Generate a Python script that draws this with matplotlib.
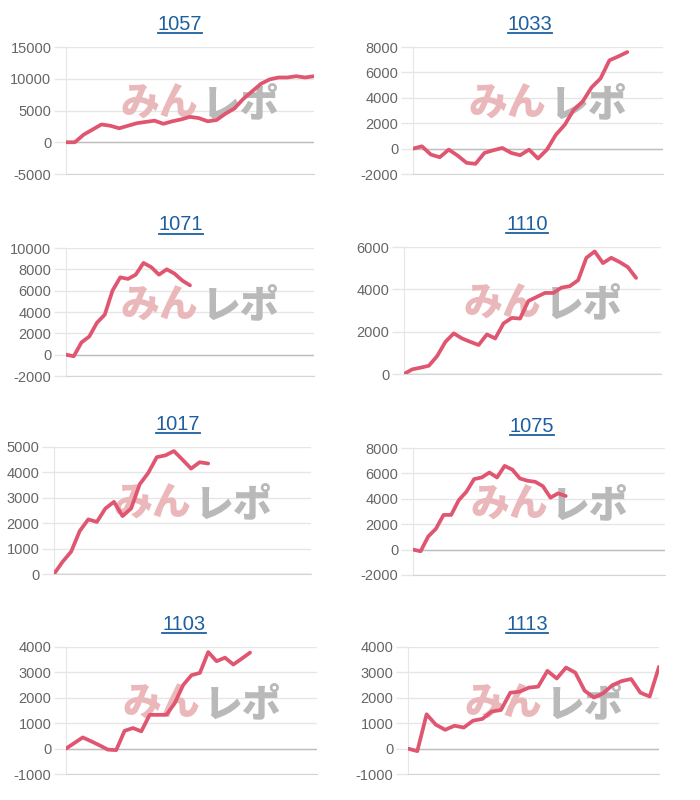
import matplotlib.pyplot as plt
from matplotlib.lines import Line2D

# machine numbers and cumulative difference per day
titles = ["1057", "1033", "1071", "1110", "1017", "1075", "1103", "1113"]

m1057 = [0, 0, 1200, 2000, 2800, 2600, 2200, 2600, 3000, 3200, 3400, 2900, 3300, 3600,
         4000, 3800, 3300, 3500, 4500, 5300, 6800, 8000, 9200, 9900, 10200, 10200, 10400,
         10200, 10400]
m1033 = [0, 180, -470, -680, -80, -550, -1120, -1200, -340, -130, 50, -340, -520, -80,
         -780, -80, 1090, 1880, 3050, 3700, 4820, 5520, 6950, 7260, 7600]
m1071 = [0, -150, 1150, 1700, 3000, 3750, 6000, 7250, 7100, 7500, 8600, 8200, 7500, 8000,
         7600, 6950, 6500]
m1110 = [0, 220, 300, 390, 850, 1520, 1920, 1680, 1520, 1370, 1870, 1680, 2390, 2650,
         2620, 3450, 3640, 3830, 3830, 4080, 4150, 4430, 5490, 5790, 5240, 5490, 5290,
         5050, 4540]
m1017 = [0, 480, 880, 1690, 2150, 2050, 2580, 2840, 2280, 2580, 3530, 3980, 4600, 4670,
         4840, 4500, 4150, 4400, 4350]
m1075 = [0, -130, 1040, 1640, 2730, 2730, 3900, 4560, 5550, 5680, 6070, 5680, 6590, 6300,
         5600, 5420, 5340, 5000, 4090, 4430, 4220]
m1103 = [0, 220, 440, 290, 130, -40, -60, 700, 810, 680, 1330, 1330, 1330, 1790, 2500,
         2890, 2980, 3800, 3440, 3580, 3310, 3540, 3780]
m1113 = [0, -100, 1350, 940, 740, 900, 830, 1100, 1170, 1460, 1520, 2200, 2240, 2400,
         2440, 3060, 2760, 3190, 2990, 2280, 2010, 2180, 2500, 2660, 2740, 2200, 2050, 3220]

series = [m1057, m1033, m1071, m1110, m1017, m1075, m1103, m1113]
# number of day labels on each x axis
day_counts = [29, 29, 33, 32, 31, 34, 31, 28]
# y axis range and step
y_ranges = [(-5000, 15000, 5000), (-2000, 8000, 2000), (-2000, 10000, 2000),
            (0, 6000, 2000), (0, 5000, 1000), (-2000, 8000, 2000),
            (-1000, 4000, 1000), (-1000, 4000, 1000)]

# plot boxes in pixels: left, top, right, bottom
boxes = [(66, 47, 314, 174), (413, 47, 663, 174),
         (66, 248, 314, 376), (404, 247, 661, 374),
         (54, 447, 311, 574), (413, 448, 665, 575),
         (66, 647, 317, 774), (408, 647, 659, 774)]
title_pos = [(180, 24), (530, 24), (181, 225), (527, 224),
             (178, 424), (532, 426), (184, 624), (527, 624)]

W, H = 700, 800
LINE = "#e05670"
GRID = "#e6e6e6"
TITLE = "#1d5f9f"

plt.rcParams['font.family'] = ['Liberation Sans', 'DejaVu Sans']
plt.rcParams['axes.unicode_minus'] = False
fig = plt.figure(figsize=(7, 8), dpi=100)

title_texts = []
for i, vals in enumerate(series):
    l, t, r, b = boxes[i]
    ax = fig.add_axes([l / W, 1 - b / H, (r - l) / W, (b - t) / H])
    lo, hi, step = y_ranges[i]
    ax.set_ylim(lo, hi)
    ax.set_yticks(range(lo, hi + 1, step))
    ax.set_xlim(0, day_counts[i] - 1)
    ax.set_xticks([])
    ax.yaxis.grid(True, color=GRID, lw=1)
    ax.set_axisbelow(True)
    ax.axhline(0, color="#bdbdbd", lw=1, zorder=1.5)
    for side in ["top", "right"]:
        ax.spines[side].set_visible(False)
    ax.spines["left"].set_color(GRID)
    ax.spines["bottom"].set_color("#d5d5d5")
    ax.tick_params(axis="y", length=9, width=1, color=GRID, pad=1.5,
                   labelsize=10.5, labelcolor="#666666")

    # watermark
    wm = dict(transform=ax.transAxes, fontsize=28, fontweight="black",
              family=["Noto Sans CJK JP"], va="center", zorder=1)
    ax.text(0.535, 0.55, "みん", ha="right", color="#eab8bb", **wm)
    ax.text(0.545, 0.55, "レポ", ha="left", color="#b9b9b9", **wm)

    ax.plot(range(len(vals)), vals, color=LINE, lw=2.7, zorder=3,
            solid_joinstyle="round", solid_capstyle="round")

    tx, ty = title_pos[i]
    title_texts.append(fig.text(tx / W, 1 - ty / H, titles[i], fontsize=14.5,
                                color=TITLE, ha="center", va="center"))

# underline the titles like links
fig.canvas.draw()
renderer = fig.canvas.get_renderer()
for txt in title_texts:
    bb = txt.get_window_extent(renderer)
    y = (bb.y0 + 1) / H
    fig.add_artist(Line2D([bb.x0 / W, bb.x1 / W], [y, y], color=TITLE, lw=1.3))

fig.savefig("out.png", dpi=100, facecolor="white")
